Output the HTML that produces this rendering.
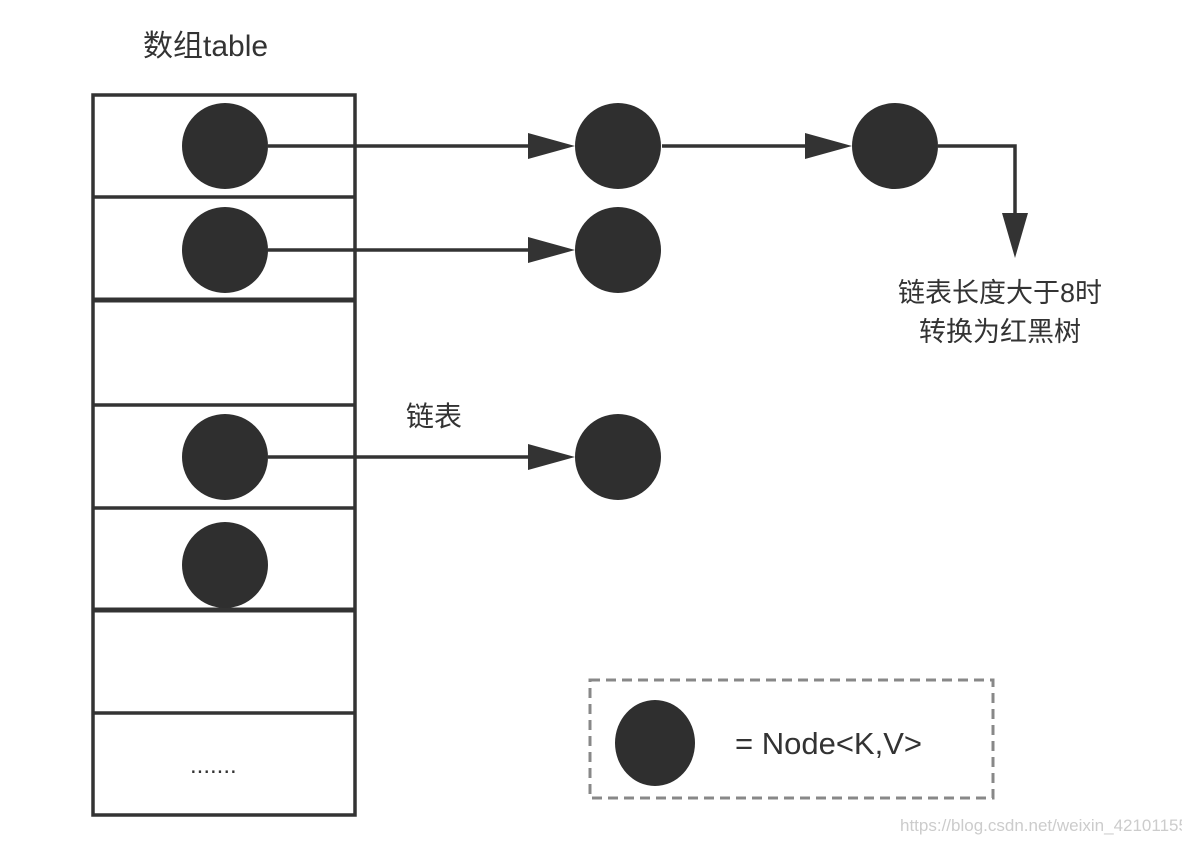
<!DOCTYPE html>
<html><head><meta charset="utf-8"><style>
body{margin:0;background:#fff;}
svg{display:block;}
text{font-family:"Liberation Sans","Noto Sans CJK SC",sans-serif;fill:#333;}
</style></head><body>
<svg width="1182" height="843" viewBox="0 0 1182 843" xmlns="http://www.w3.org/2000/svg">
<defs><marker id="a" markerWidth="10" markerHeight="10" refX="9" refY="5" orient="auto" markerUnits="userSpaceOnUse" viewBox="0 0 10 10"><path d="M0,0 L10,5 L0,10 z" fill="#333"/></marker></defs>
<text x="143" y="56" font-size="30">数组table</text>
<g stroke="#333" stroke-width="3.5" fill="none">
<rect x="93" y="95" width="262" height="720"/>
<line x1="93" y1="197" x2="355" y2="197"/>
<line x1="93" y1="300" x2="355" y2="300" stroke-width="5"/>
<line x1="93" y1="405" x2="355" y2="405"/>
<line x1="93" y1="508" x2="355" y2="508"/>
<line x1="93" y1="610" x2="355" y2="610" stroke-width="5"/>
<line x1="93" y1="713" x2="355" y2="713"/>
</g>
<g fill="#2f2f2f">
<circle cx="225" cy="146" r="43"/>
<circle cx="225" cy="250" r="43"/>
<circle cx="225" cy="457" r="43"/>
<circle cx="225" cy="565" r="43"/>
<circle cx="618" cy="146" r="43"/>
<circle cx="618" cy="250" r="43"/>
<circle cx="618" cy="457" r="43"/>
<circle cx="895" cy="146" r="43"/>
<ellipse cx="655" cy="743" rx="40" ry="43"/>
</g>
<g stroke="#333" stroke-width="3.5" fill="none">
<line x1="268" y1="146" x2="548" y2="146"/>
<line x1="268" y1="250" x2="548" y2="250"/>
<line x1="268" y1="457" x2="548" y2="457"/>
<line x1="662" y1="146" x2="825" y2="146"/>
<polyline points="938,146 1015,146 1015,225"/>
</g>
<g fill="#333">
<path d="M528,133 L575,146 L528,159 z"/>
<path d="M528,237 L575,250 L528,263 z"/>
<path d="M528,444 L575,457 L528,470 z"/>
<path d="M805,133 L852,146 L805,159 z"/>
<path d="M1002,213 L1015,258 L1028,213 z"/>
</g>
<text x="1000" y="302" font-size="27" text-anchor="middle">链表长度大于8时</text>
<text x="1000" y="341" font-size="27" text-anchor="middle">转换为红黑树</text>
<text x="406" y="426" font-size="28">链表</text>
<text x="190" y="773" font-size="24">.......</text>
<rect x="590" y="680" width="403" height="118" fill="none" stroke="#888" stroke-width="3" stroke-dasharray="10,6"/>
<text x="735" y="754" font-size="31">= Node&lt;K,V&gt;</text>
<text x="900" y="831" font-size="17" style="fill:#ccc">https://blog.csdn.net/weixin_42101155</text>
</svg>
</body></html>
